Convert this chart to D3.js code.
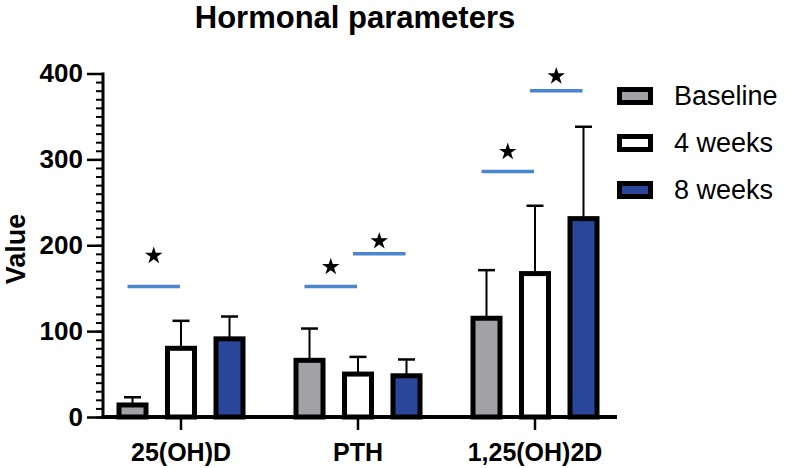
<!DOCTYPE html>
<html>
<head>
<meta charset="utf-8">
<script src="https://cdn.jsdelivr.net/npm/d3@7"></script>
<style>
  body { margin: 0; background: #fff; }
  svg { display: block; font-family: "Liberation Sans", Arial, Helvetica, sans-serif; }
</style>
</head>
<body>
<svg id="chart" width="788" height="468"></svg>
<script>
// ---- data ----
const categories = ["25(OH)D", "PTH", "1,25(OH)2D"];
const seriesNames = ["Baseline", "4 weeks", "8 weeks"];
const baselineMean = [14, 66, 115];
const baselineSD   = [9, 37, 56];
const week4Mean    = [80, 50, 167];
const week4SD      = [32, 20, 79];
const week8Mean    = [91, 48, 231];
const week8SD      = [26, 19, 107];
const yTicks = [0, 100, 200, 300, 400];
// significance annotations: group index, from series, to series, line value, star value
const sigGroup = [0, 1, 1, 2, 2];
const sigFrom  = [0, 0, 1, 0, 1];
const sigTo    = [1, 1, 2, 1, 2];
const sigLine  = [152, 152, 190, 286, 380];
const sigStar  = [189, 176, 206, 310, 398];

const colors = ["#a2a2a4", "#ffffff", "#2a469b"];
const means = [baselineMean, week4Mean, week8Mean];
const sds = [baselineSD, week4SD, week8SD];

const svg = d3.select("#chart");
const y = d3.scaleLinear().domain([0, 400]).range([417, 73.5]);
const xg = d3.scaleBand().domain(categories).range([92.5, 623.5]).padding(0);
const xs = d3.scalePoint().domain(seriesNames).range([-48.5, 48.5]);
const barW = 27;
const cx = (gi, si) => xg(categories[gi]) + xg.bandwidth() / 2 + xs(seriesNames[si]);

// title
svg.append("text").attr("x", 355).attr("y", 28).attr("text-anchor", "middle")
  .attr("font-size", 31).attr("font-weight", "bold").text("Hormonal parameters");

// y axis
const yAxis = svg.append("g").attr("transform", "translate(103,0)");
yAxis.call(d3.axisLeft(y).tickValues(d3.range(0, 401, 10)).tickSize(7).tickFormat(""))
  .call(g => g.select(".domain").remove())
  .call(g => g.selectAll("line").attr("stroke", "#000").attr("stroke-width", 2));
yAxis.append("g").call(d3.axisLeft(y).tickValues(yTicks).tickSize(16).tickPadding(4))
  .call(g => g.select(".domain").remove())
  .call(g => g.selectAll("line").attr("stroke", "#000").attr("stroke-width", 2.5))
  .call(g => g.selectAll("text").attr("font-size", 26).attr("font-weight", "bold")
     .attr("fill", "#000").attr("font-family", "Liberation Sans, Arial, sans-serif"));
yAxis.append("line").attr("x1", 0).attr("x2", 0).attr("y1", y(400) - 1).attr("y2", y(0) + 2)
  .attr("stroke", "#000").attr("stroke-width", 3);

svg.append("text").attr("transform", "translate(25,249) rotate(-90)")
  .attr("text-anchor", "middle").attr("font-size", 27).attr("font-weight", "bold").text("Value");

// error bars (behind bars)
const eb = svg.append("g");
means.forEach((arr, si) => {
  arr.forEach((v, gi) => {
    const x = cx(gi, si);
    eb.append("line").attr("x1", x).attr("x2", x).attr("y1", y(v)).attr("y2", y(v + sds[si][gi]))
      .attr("stroke", "#000").attr("stroke-width", 2);
    eb.append("line").attr("x1", x - 8.5).attr("x2", x + 8.5)
      .attr("y1", y(v + sds[si][gi])).attr("y2", y(v + sds[si][gi]))
      .attr("stroke", "#000").attr("stroke-width", 2.5);
  });
});

// bars
const bars = svg.append("g");
means.forEach((arr, si) => {
  bars.selectAll(null).data(arr).enter().append("rect")
    .attr("x", (d, gi) => cx(gi, si) - barW / 2)
    .attr("y", d => y(d))
    .attr("width", barW)
    .attr("height", d => y(0) - y(d))
    .attr("fill", colors[si]).attr("stroke", "#000").attr("stroke-width", 5);
});

// x axis
const xAxisG = svg.append("g").attr("transform", `translate(0,${y(0)})`);
xAxisG.call(d3.axisBottom(xg).tickSize(13).tickPadding(13))
  .call(g => g.select(".domain").remove())
  .call(g => g.selectAll("line").attr("stroke", "#000").attr("stroke-width", 2.5))
  .call(g => g.selectAll("text").attr("font-size", 25).attr("font-weight", "bold")
     .attr("fill", "#000").attr("font-family", "Liberation Sans, Arial, sans-serif"));
xAxisG.append("line").attr("x1", 101.5).attr("x2", 617).attr("y1", 0).attr("y2", 0)
  .attr("stroke", "#000").attr("stroke-width", 4);

// significance
const sig = svg.append("g");
sigGroup.forEach((gi, k) => {
  const x1 = cx(gi, sigFrom[k]) - 5, x2 = cx(gi, sigTo[k]) - 1;
  sig.append("line").attr("x1", x1).attr("x2", x2).attr("y1", y(sigLine[k])).attr("y2", y(sigLine[k]))
    .attr("stroke", "#4a86d0").attr("stroke-width", 3.5);
  sig.append("path").attr("d", d3.symbol(d3.symbolStar, 95)())
    .attr("transform", `translate(${(x1 + x2) / 2},${y(sigStar[k]) + 1})`).attr("fill", "#000");
});

// legend
const leg = svg.append("g");
seriesNames.forEach((s, i) => {
  const cy = 96 + i * 47;
  leg.append("rect").attr("x", 619.5).attr("y", cy - 6.5).attr("width", 31).attr("height", 13)
    .attr("fill", colors[i]).attr("stroke", "#000").attr("stroke-width", 5);
  leg.append("text").attr("x", 674).attr("y", cy + 9).attr("font-size", 27).text(s);
});
</script>
</body>
</html>
